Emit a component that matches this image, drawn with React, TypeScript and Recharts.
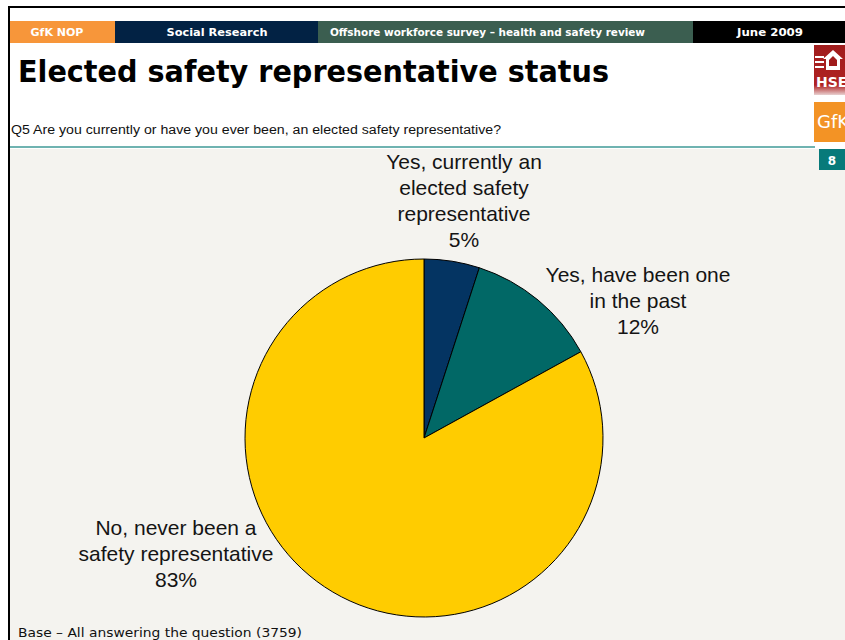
import React from "react";
import { PieChart, Pie, Cell } from "recharts";

// ---- data ----
const categories = [
  "Yes, currently an elected safety representative",
  "Yes, have been one in the past",
  "No, never been a safety representative",
];
const values = [5, 12, 83];
const labelLines = [
  ["Yes, currently an", "elected safety", "representative"],
  ["Yes, have been one", "in the past"],
  ["No, never been a", "safety representative"],
];
const headerLabels = ["GfK NOP", "Social Research", "Offshore workforce survey – health and safety review", "June 2009"];
const titleText = "Elected safety representative status";
const questionText = "Q5 Are you currently or have you ever been, an elected safety representative?";
const baseText = "Base – All answering the question (3759)";
const pageNumber = "8";

// ---- styles ----
const sliceColors = ["#043462", "#016866", "#FFCC00"];
const labelOffsets = [
  { dx: 40, dy: -269 },
  { dx: 214, dy: -156 },
  { dx: -248, dy: 97 },
];

const data = categories.map((name, i) => ({ name, value: values[i] }));

const renderLabel = (props: any) => {
  const { index } = props;
  const cx = props.cx ?? 424;
  const cy = props.cy ?? 438;
  const off = labelOffsets[index];
  const x = cx + off.dx;
  const y0 = cy + off.dy;
  const lines = [...labelLines[index], `${values[index]}%`];
  return (
    <text
      x={x}
      y={y0}
      textAnchor="middle"
      fontFamily="'Liberation Sans', Arial, sans-serif"
      fontSize={21}
      fill="#141414"
    >
      {lines.map((l, k) => (
        <tspan key={k} x={x} dy={k === 0 ? 0 : 26}>
          {l}
        </tspan>
      ))}
    </text>
  );
};

const Decor = () => (
  <svg width={845} height={640} style={{ position: "absolute", left: 0, top: 0 }}>
    <rect x={0} y={0} width={845} height={640} fill="#ffffff" />
    <rect x={10} y={149} width={835} height={491} fill="#F4F3EF" />
    {/* border */}
    <rect x={8} y={6} width={837} height={2} fill="#000" />
    <rect x={8} y={6} width={2} height={634} fill="#000" />
    {/* header band */}
    <rect x={10} y={21} width={105} height={22} fill="#F7963A" />
    <rect x={115} y={21} width={203} height={22} fill="#022244" />
    <rect x={318} y={21} width={375} height={22} fill="#3B5E50" />
    <rect x={693} y={21} width={152} height={22} fill="#000000" />
    <g fontFamily="'DejaVu Sans', sans-serif" fontWeight="bold" fontSize={11} fill="#fff">
      <text x={57} y={36} textAnchor="middle">{headerLabels[0]}</text>
      <text x={217} y={36} textAnchor="middle" textLength={101} lengthAdjust="spacingAndGlyphs">{headerLabels[1]}</text>
      <text x={330} y={36} textLength={315} lengthAdjust="spacingAndGlyphs">{headerLabels[2]}</text>
      <text x={770} y={36} textAnchor="middle" textLength={66} lengthAdjust="spacingAndGlyphs">{headerLabels[3]}</text>
    </g>
    {/* title */}
    <text
      x={18}
      y={82}
      fontFamily="'DejaVu Sans', sans-serif"
      fontWeight="bold"
      fontSize={30}
      fill="#000"
      textLength={591}
      lengthAdjust="spacingAndGlyphs"
    >
      {titleText}
    </text>
    {/* question */}
    <text x={11} y={134} fontFamily="'Liberation Sans', Arial, sans-serif" fontSize={12} fill="#111" textLength={490} lengthAdjust="spacingAndGlyphs">
      {questionText}
    </text>
    <rect x={10} y={146} width={805} height={2} fill="#6FB3B1" />
    {/* HSE logo */}
    <defs>
      <linearGradient id="hseFade" x1="0" y1="0" x2="0" y2="1">
        <stop offset="0" stopColor="#A01C1C" />
        <stop offset="0.8" stopColor="#B02222" />
        <stop offset="1" stopColor="#E8D0D0" />
      </linearGradient>
    </defs>
    <rect x={814} y={45} width={31} height={50} fill="url(#hseFade)" />
    <g fill="#ffffff">
      <rect x={815} y={56} width={9} height={2} />
      <rect x={815} y={61} width={9} height={2} />
      <rect x={815} y={66} width={9} height={2} />
      <polygon points="833,50 843,59 840,59 840,70 826,70 826,59 823,59" />
    </g>
    <polygon points="833,56 837,60 837,66 829,66 829,60" fill="#A01C1C" />
    <text x={816} y={87} fontFamily="'DejaVu Sans', sans-serif" fontWeight="bold" fontSize={14} fill="#fff">HSE</text>
    {/* GfK logo */}
    <rect x={814} y={102} width={31} height={40} fill="#F39325" />
    <text x={817} y={128} fontFamily="'DejaVu Sans', sans-serif" fontSize={18} fill="#fff">GfK</text>
    {/* page number */}
    <rect x={819} y={149} width={26} height={21} fill="#077A7A" />
    <text x={832} y={165} textAnchor="middle" fontFamily="'DejaVu Sans', sans-serif" fontWeight="bold" fontSize={12} fill="#fff">{pageNumber}</text>
    {/* base */}
    <text x={18} y={637} fontFamily="'DejaVu Sans', sans-serif" fontSize={13} fill="#111" textLength={284} lengthAdjust="spacingAndGlyphs">{baseText}</text>
  </svg>
);

export default function App() {
  return (
    <div style={{ position: "absolute", left: 0, top: 0, width: 845, height: 640, overflow: "hidden" }}>
      <Decor />
      <div style={{ position: "absolute", left: 0, top: 0 }}>
        <PieChart width={845} height={640} margin={{ top: 0, right: 0, bottom: 0, left: 0 }}>
          <Pie
            data={data}
            dataKey="value"
            nameKey="name"
            cx={424}
            cy={438}
            outerRadius={179}
            startAngle={90}
            endAngle={-270}
            stroke="#000"
            strokeWidth={1}
            label={renderLabel}
            labelLine={false}
            isAnimationActive={false}
          >
            {data.map((d, i) => (
              <Cell key={d.name} fill={sliceColors[i]} />
            ))}
          </Pie>
        </PieChart>
      </div>
    </div>
  );
}
